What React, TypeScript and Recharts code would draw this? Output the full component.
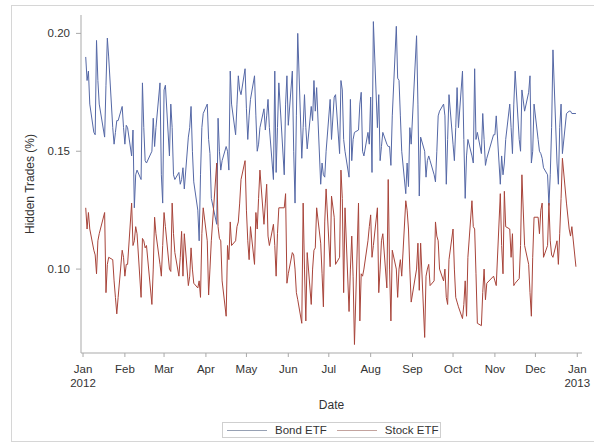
import React from 'react';
import { LineChart, Line, XAxis, YAxis } from 'recharts';

// Month labels for the x axis (first of each month, plus Jan 1 of the next year)
const monthNames = ['Jan', 'Feb', 'Mar', 'Apr', 'May', 'Jun', 'Jul', 'Aug', 'Sep', 'Oct', 'Nov', 'Dec', 'Jan'];
const tickYears = ['2012', '', '', '', '', '', '', '', '', '', '', '', '2013'];

// Trading days of 2012, day-of-month listed per month
const tradingDays: number[][] = [
  [3, 4, 5, 6, 9, 10, 11, 12, 13, 17, 18, 19, 20, 23, 24, 25, 26, 27, 30, 31],
  [1, 2, 3, 6, 7, 8, 9, 10, 13, 14, 15, 16, 17, 21, 22, 23, 24, 27, 28, 29],
  [1, 2, 5, 6, 7, 8, 9, 12, 13, 14, 15, 16, 19, 20, 21, 22, 23, 26, 27, 28, 29, 30],
  [2, 3, 4, 5, 9, 10, 11, 12, 13, 16, 17, 18, 19, 20, 23, 24, 25, 26, 27, 30],
  [1, 2, 3, 4, 7, 8, 9, 10, 11, 14, 15, 16, 17, 18, 21, 22, 23, 24, 25, 29, 30, 31],
  [1, 4, 5, 6, 7, 8, 11, 12, 13, 14, 15, 18, 19, 20, 21, 22, 25, 26, 27, 28, 29],
  [2, 3, 5, 6, 9, 10, 11, 12, 13, 16, 17, 18, 19, 20, 23, 24, 25, 26, 27, 30, 31],
  [1, 2, 3, 6, 7, 8, 9, 10, 13, 14, 15, 16, 17, 20, 21, 22, 23, 24, 27, 28, 29, 30, 31],
  [4, 5, 6, 7, 10, 11, 12, 13, 14, 17, 18, 19, 20, 21, 24, 25, 26, 27, 28],
  [1, 2, 3, 4, 5, 8, 9, 10, 11, 12, 15, 16, 17, 18, 19, 22, 23, 24, 25, 26, 31],
  [1, 2, 5, 6, 7, 8, 9, 12, 13, 14, 15, 16, 19, 20, 21, 23, 26, 27, 28, 29, 30],
  [3, 4, 5, 6, 7, 10, 11, 12, 13, 14, 17, 18, 19, 20, 21, 24, 26, 27, 28, 31],
];

// Daily share of hidden trades (%), bond ETF
const bondEtf: number[] = [
  0.190, 0.180, 0.184, 0.170, 0.158, 0.157, 0.197, 0.180, 0.170, 0.156, 0.178, 0.198, 0.190, 0.160, 0.153, 0.158, 0.163, 0.163, 0.169, 0.160,
  0.153, 0.161, 0.160, 0.148, 0.159, 0.126, 0.140, 0.142, 0.138, 0.179, 0.160, 0.146, 0.145, 0.150, 0.164, 0.152, 0.160, 0.179, 0.140, 0.128,
  0.176, 0.178, 0.148, 0.170, 0.160, 0.140, 0.138, 0.141, 0.136, 0.138, 0.143, 0.134, 0.156, 0.160, 0.169, 0.150, 0.137, 0.125, 0.112, 0.140, 0.160, 0.166,
  0.170, 0.155, 0.149, 0.130, 0.119, 0.164, 0.150, 0.142, 0.146, 0.152, 0.150, 0.142, 0.184, 0.170, 0.157, 0.170, 0.182, 0.176, 0.174, 0.185,
  0.168, 0.155, 0.165, 0.172, 0.182, 0.165, 0.150, 0.153, 0.160, 0.168, 0.159, 0.165, 0.172, 0.160, 0.138, 0.184, 0.141, 0.160, 0.179, 0.140, 0.170, 0.182,
  0.161, 0.184, 0.150, 0.128, 0.165, 0.200, 0.147, 0.160, 0.174, 0.160, 0.151, 0.169, 0.163, 0.180, 0.167, 0.177, 0.136, 0.145, 0.140, 0.139, 0.150,
  0.172, 0.155, 0.173, 0.174, 0.149, 0.180, 0.176, 0.155, 0.150, 0.139, 0.172, 0.146, 0.155, 0.158, 0.159, 0.170, 0.175, 0.150, 0.148, 0.158, 0.153,
  0.173, 0.141, 0.205, 0.160, 0.174, 0.146, 0.152, 0.158, 0.153, 0.152, 0.152, 0.144, 0.165, 0.203, 0.181, 0.180, 0.165, 0.150, 0.132, 0.145, 0.135, 0.160, 0.153,
  0.199, 0.170, 0.131, 0.156, 0.150, 0.139, 0.146, 0.148, 0.146, 0.140, 0.137, 0.150, 0.165, 0.167, 0.170, 0.165, 0.136, 0.155, 0.174,
  0.153, 0.146, 0.160, 0.177, 0.160, 0.184, 0.155, 0.130, 0.148, 0.155, 0.148, 0.145, 0.185, 0.155, 0.158, 0.149, 0.166, 0.155, 0.144, 0.147, 0.157,
  0.157, 0.165, 0.136, 0.148, 0.140, 0.145, 0.155, 0.170, 0.160, 0.149, 0.170, 0.184, 0.155, 0.150, 0.176, 0.167, 0.175, 0.182, 0.145, 0.150, 0.170,
  0.155, 0.150, 0.149, 0.147, 0.143, 0.140, 0.127, 0.140, 0.160, 0.193, 0.145, 0.136, 0.160, 0.170, 0.149, 0.166, 0.167, 0.167, 0.166, 0.166,
];

// Daily share of hidden trades (%), stock ETF
const stockEtf: number[] = [
  0.126, 0.117, 0.124, 0.117, 0.108, 0.106, 0.098, 0.112, 0.115, 0.124, 0.090, 0.102, 0.105, 0.104, 0.095, 0.088, 0.081, 0.088, 0.108, 0.105,
  0.097, 0.102, 0.102, 0.128, 0.110, 0.112, 0.118, 0.115, 0.088, 0.113, 0.112, 0.109, 0.110, 0.085, 0.100, 0.122, 0.115, 0.102, 0.097, 0.110,
  0.124, 0.118, 0.100, 0.099, 0.128, 0.115, 0.107, 0.097, 0.105, 0.116, 0.097, 0.115, 0.093, 0.097, 0.109, 0.100, 0.094, 0.092, 0.095, 0.088, 0.115, 0.126,
  0.112, 0.089, 0.100, 0.112, 0.145, 0.118, 0.113, 0.112, 0.095, 0.080, 0.110, 0.104, 0.120, 0.110, 0.112, 0.118, 0.120, 0.128, 0.138, 0.146,
  0.125, 0.112, 0.104, 0.118, 0.102, 0.124, 0.117, 0.130, 0.142, 0.119, 0.128, 0.136, 0.114, 0.110, 0.119, 0.110, 0.097, 0.115, 0.126, 0.126, 0.132, 0.094,
  0.098, 0.107, 0.106, 0.100, 0.090, 0.087, 0.077, 0.128, 0.100, 0.078, 0.107, 0.085, 0.100, 0.108, 0.109, 0.126, 0.111, 0.098, 0.084, 0.120, 0.134,
  0.101, 0.131, 0.122, 0.102, 0.105, 0.142, 0.130, 0.090, 0.126, 0.082, 0.100, 0.114, 0.097, 0.068, 0.128, 0.078, 0.098, 0.097, 0.100, 0.112, 0.118,
  0.123, 0.105, 0.110, 0.126, 0.090, 0.100, 0.112, 0.115, 0.092, 0.138, 0.100, 0.078, 0.108, 0.100, 0.088, 0.100, 0.104, 0.097, 0.129, 0.125, 0.117, 0.100, 0.086,
  0.100, 0.111, 0.091, 0.111, 0.071, 0.097, 0.100, 0.102, 0.093, 0.095, 0.120, 0.114, 0.112, 0.100, 0.095, 0.100, 0.088, 0.085, 0.104,
  0.117, 0.100, 0.088, 0.086, 0.084, 0.079, 0.085, 0.095, 0.080, 0.105, 0.129, 0.118, 0.117, 0.098, 0.077, 0.076, 0.090, 0.100, 0.087, 0.094, 0.097,
  0.095, 0.093, 0.132, 0.110, 0.098, 0.133, 0.118, 0.117, 0.105, 0.115, 0.093, 0.094, 0.096, 0.110, 0.140, 0.110, 0.102, 0.090, 0.080, 0.105, 0.122,
  0.122, 0.115, 0.125, 0.128, 0.105, 0.110, 0.128, 0.112, 0.106, 0.105, 0.112, 0.102, 0.115, 0.130, 0.147, 0.128, 0.117, 0.114, 0.118, 0.101,
];

const yTicks = [0.1, 0.15, 0.2];
const seriesNames = ['Bond ETF', 'Stock ETF'];
const seriesColors = ['#5568a6', '#a8443a'];
const legendColors = ['#97a1b4', '#c3a39e'];

const FONT = '"Liberation Sans", Arial, sans-serif';
const TEXT = '#333333';
const AXIS = '#a9a9a9';

const DAY_MS = 86400000;
const yearStart = Date.UTC(2012, 0, 1);
const dayOfYear = (month: number, day: number) =>
  Math.round((Date.UTC(2012, month, day) - yearStart) / DAY_MS);

const monthTicks = monthNames.map((_, i) => dayOfYear(i, 1));

const rows = tradingDays.flatMap((days, m) => days.map((d) => dayOfYear(m, d)));
const data = rows.map((day, i) => ({ day, bond: bondEtf[i], stock: stockEtf[i] }));

const MonthTick = (props: any) => {
  const { x, y, payload } = props;
  const i = monthTicks.indexOf(payload.value);
  return (
    <text x={x} y={y} textAnchor="middle" fill={TEXT} fontSize={11.5} fontFamily={FONT}>
      <tspan x={x} dy={14}>{monthNames[i]}</tspan>
      {tickYears[i] ? <tspan x={x} dy={14}>{tickYears[i]}</tspan> : null}
    </text>
  );
};

const YLabel = (props: any) => {
  const vb = props.viewBox;
  const cy = vb.y + vb.height / 2;
  return (
    <text x={34} y={cy} transform={`rotate(-90 34 ${cy})`} textAnchor="middle"
      fill={TEXT} fontSize={12} fontFamily={FONT}>
      Hidden Trades (%)
    </text>
  );
};

const XLabel = (props: any) => {
  const vb = props.viewBox;
  const cx = vb.x + vb.width / 2;
  return (
    <text x={cx} y={409} textAnchor="middle" fill={TEXT} fontSize={12} fontFamily={FONT}>
      Date
    </text>
  );
};

export default function App() {
  return (
    <div style={{ position: 'absolute', left: 0, top: 0, width: 594, height: 444, background: '#fff', overflow: 'hidden' }}>
      <div style={{
        position: 'absolute', left: 11, top: 5, width: 600, height: 437,
        border: '1px solid #d6d6d6', boxSizing: 'border-box',
      }} />
      <LineChart width={594} height={444} data={data}
        margin={{ top: 15, right: 12, bottom: 0, left: 0 }}
        style={{ position: 'absolute', left: 0, top: 0 }}>
        <XAxis dataKey="day" type="number" domain={[-1.5, 369.5]} ticks={monthTicks}
          interval={0} height={91} tickSize={4} tickMargin={2}
          stroke={AXIS} tickLine={{ stroke: AXIS }} axisLine={{ stroke: AXIS }}
          tick={<MonthTick />} label={<XLabel />} allowDataOverflow />
        <XAxis xAxisId="top" orientation="top" dataKey="day" type="number" domain={[-1.5, 369.5]}
          height={0} tick={false} tickLine={false} axisLine={{ stroke: AXIS }} />
        <YAxis type="number" domain={[0.0644, 0.2078]} ticks={yTicks} width={81}
          tickSize={5} tickMargin={6} allowDataOverflow
          tickFormatter={(v: number) => v.toFixed(2)}
          tick={{ fill: TEXT, fontSize: 11.5, fontFamily: FONT }}
          tickLine={{ stroke: AXIS }} axisLine={{ stroke: AXIS }}
          label={<YLabel />} />
        <YAxis yAxisId="right" orientation="right" type="number" domain={[0.0644, 0.2078]}
          width={0} tick={false} tickLine={false} axisLine={{ stroke: AXIS }} />
        <Line dataKey="bond" name={seriesNames[0]} type="linear" stroke={seriesColors[0]}
          strokeWidth={1} dot={false} isAnimationActive={false} />
        <Line dataKey="stock" name={seriesNames[1]} type="linear" stroke={seriesColors[1]}
          strokeWidth={1} dot={false} isAnimationActive={false} />
      </LineChart>
      <div style={{
        position: 'absolute', left: 222, top: 422, width: 219, height: 16,
        border: '1px solid #cfcfcf', boxSizing: 'border-box', whiteSpace: 'nowrap',
        display: 'flex', alignItems: 'center', fontFamily: FONT, fontSize: 11.5, color: TEXT,
      }}>
        {seriesNames.map((name, i) => (
          <div key={name} style={{ display: 'flex', alignItems: 'center', flexShrink: 0, marginLeft: i === 0 ? 4 : 10 }}>
            <span style={{ display: 'inline-block', flexShrink: 0, width: 40, height: 0, borderTop: `1px solid ${legendColors[i]}`, marginRight: 8 }} />
            <span style={{ whiteSpace: 'nowrap' }}>{name}</span>
          </div>
        ))}
      </div>
    </div>
  );
}
